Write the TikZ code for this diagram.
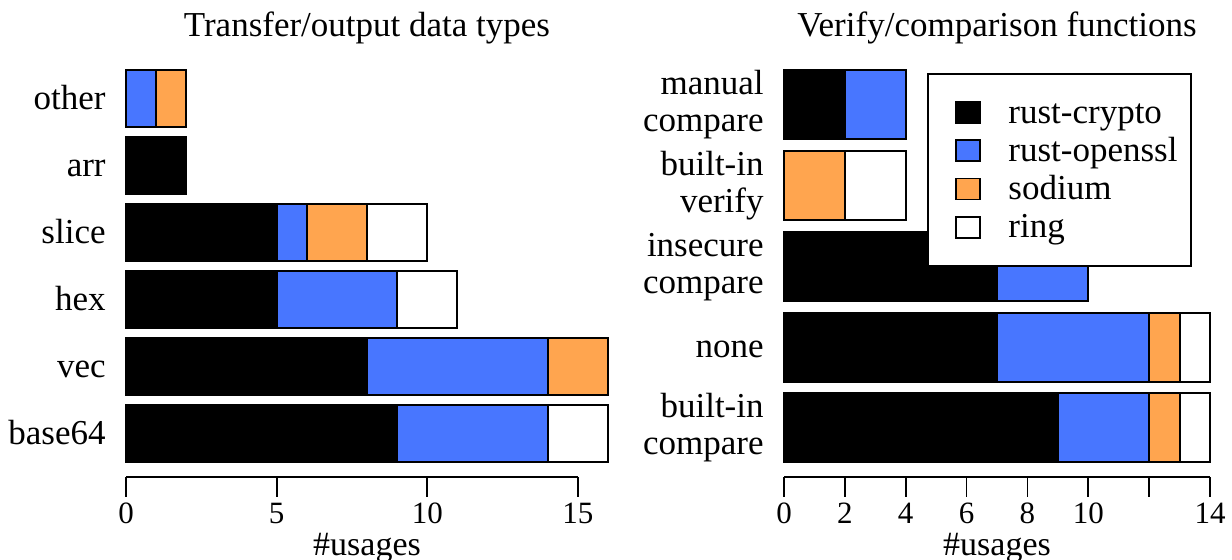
\documentclass[tikz,border=0pt]{standalone}
\usepackage{fontspec}
\setmainfont{Liberation Serif}
\usepackage{tikz}
\usepackage{xcolor}
\definecolor{ossl}{RGB}{72,118,255}
\definecolor{sodium}{RGB}{255,165,79}

\tikzset{
  seg/.style={draw=black,line width=0.9pt},
  axisline/.style={line width=0.9pt},
  rowlbl/.style={inner sep=0pt,xshift=-10pt,align=right,font=\fontsize{17.5}{18.5}\selectfont},
  ticklbl/.style={inner sep=0pt,font=\fontsize{15.5}{17}\selectfont},
  xlbl/.style={inner sep=0pt,anchor=base,font=\fontsize{17}{19}\selectfont},
  ttl/.style={inner sep=0pt,anchor=base,font=\fontsize{17.5}{20}\selectfont}
}

\begin{document}
\begin{tikzpicture}[x=0.5pt,y=-0.5pt]
        \useasboundingbox (0,0) rectangle (1232,559);

        % left panel: transfer/output data types
        \begin{scope}[shift={(126,0)},x=15.0625pt]
        \node[ttl] (ttl-l) at (8,36) {Transfer/output data types};
        % other
        \draw[seg,fill=ossl] (0,70) rectangle (1,127);
        \draw[seg,fill=sodium] (1,70) rectangle (2,127);
        \node[rowlbl,anchor=base east] (lbl-other) at (0,109) {other};
        % arr
        \draw[seg,fill=black] (0,137) rectangle (2,194);
        \node[rowlbl,anchor=base east] (lbl-arr) at (0,176) {arr};
        % slice
        \draw[seg,fill=black] (0,204) rectangle (5,261);
        \draw[seg,fill=ossl] (5,204) rectangle (6,261);
        \draw[seg,fill=sodium] (6,204) rectangle (8,261);
        \draw[seg,fill=white] (8,204) rectangle (10,261);
        \node[rowlbl,anchor=base east] (lbl-slice) at (0,243) {slice};
        % hex
        \draw[seg,fill=black] (0,271) rectangle (5,328);
        \draw[seg,fill=ossl] (5,271) rectangle (9,328);
        \draw[seg,fill=white] (9,271) rectangle (11,328);
        \node[rowlbl,anchor=base east] (lbl-hex) at (0,310) {hex};
        % vec
        \draw[seg,fill=black] (0,338) rectangle (8,395);
        \draw[seg,fill=ossl] (8,338) rectangle (14,395);
        \draw[seg,fill=sodium] (14,338) rectangle (16,395);
        \node[rowlbl,anchor=base east] (lbl-vec) at (0,377) {vec};
        % base64
        \draw[seg,fill=black] (0,405) rectangle (9,462);
        \draw[seg,fill=ossl] (9,405) rectangle (14,462);
        \draw[seg,fill=white] (14,405) rectangle (16,462);
        \node[rowlbl,anchor=base east] (lbl-base64) at (0,444) {base64};
        % axis
        \draw[axisline] (0,477) -- (15,477);
        \foreach \t in {0,5,10,15}{
          \draw[axisline] (\t,477) -- (\t,497);
          \node[ticklbl] (tick-l\t) at (\t,513.5) {\t};
        }
        \node[xlbl] (xlab-l) at (8,555) {\#usages};
        \end{scope}

        % right panel: verify/comparison functions
        \begin{scope}[shift={(784,0)},x=15.215pt]
        \node[ttl] (ttl-r) at (7,36) {Verify/comparison functions};
        % manual compare
        \draw[seg,fill=black] (0,70) rectangle (2,139);
        \draw[seg,fill=ossl] (2,70) rectangle (4,139);
        \node[rowlbl,anchor=east] (lbl-manual) at (0,105) {manual\\compare};
        % built-in verify
        \draw[seg,fill=sodium] (0,151) rectangle (2,220);
        \draw[seg,fill=white] (2,151) rectangle (4,220);
        \node[rowlbl,anchor=east] (lbl-verify) at (0,186) {built-in\\verify};
        % insecure compare
        \draw[seg,fill=black] (0,232) rectangle (7,301);
        \draw[seg,fill=ossl] (7,232) rectangle (10,301);
        \node[rowlbl,anchor=east] (lbl-insecure) at (0,267) {insecure\\compare};
        % none
        \draw[seg,fill=black] (0,313) rectangle (7,382);
        \draw[seg,fill=ossl] (7,313) rectangle (12,382);
        \draw[seg,fill=sodium] (12,313) rectangle (13,382);
        \draw[seg,fill=white] (13,313) rectangle (14,382);
        \node[rowlbl,anchor=base east] (lbl-none) at (0,357) {none};
        % built-in compare
        \draw[seg,fill=black] (0,393) rectangle (9,462);
        \draw[seg,fill=ossl] (9,393) rectangle (12,462);
        \draw[seg,fill=sodium] (12,393) rectangle (13,462);
        \draw[seg,fill=white] (13,393) rectangle (14,462);
        \node[rowlbl,anchor=east] (lbl-builtin) at (0,428) {built-in\\compare};
        % axis
        \draw[axisline] (0,477) -- (14,477);
        \foreach \t in {0,2,...,14}
          \draw[axisline] (\t,477) -- (\t,497);
        \foreach \t in {0,2,4,6,8,10,14}
          \node[ticklbl] (tick-r\t) at (\t,513.5) {\t};
        \node[xlbl] (xlab-r) at (7,555) {\#usages};
        \end{scope}

        % legend
        \draw[line width=0.75pt,fill=white] (928,74) rectangle (1191,266);
        \foreach \c/\n [count=\i from 0] in {black/rust-crypto,ossl/rust-openssl,sodium/sodium,white/ring}{
          \draw[seg,fill=\c] (956,{102+38.2*\i}) rectangle (980,{123+38.2*\i});
          \node[inner sep=0pt,anchor=base west,font=\fontsize{17.5}{20}\selectfont] (leg-\i) at (1008,{123+38.2*\i}) {\n};
        }
\end{tikzpicture}
\end{document}
